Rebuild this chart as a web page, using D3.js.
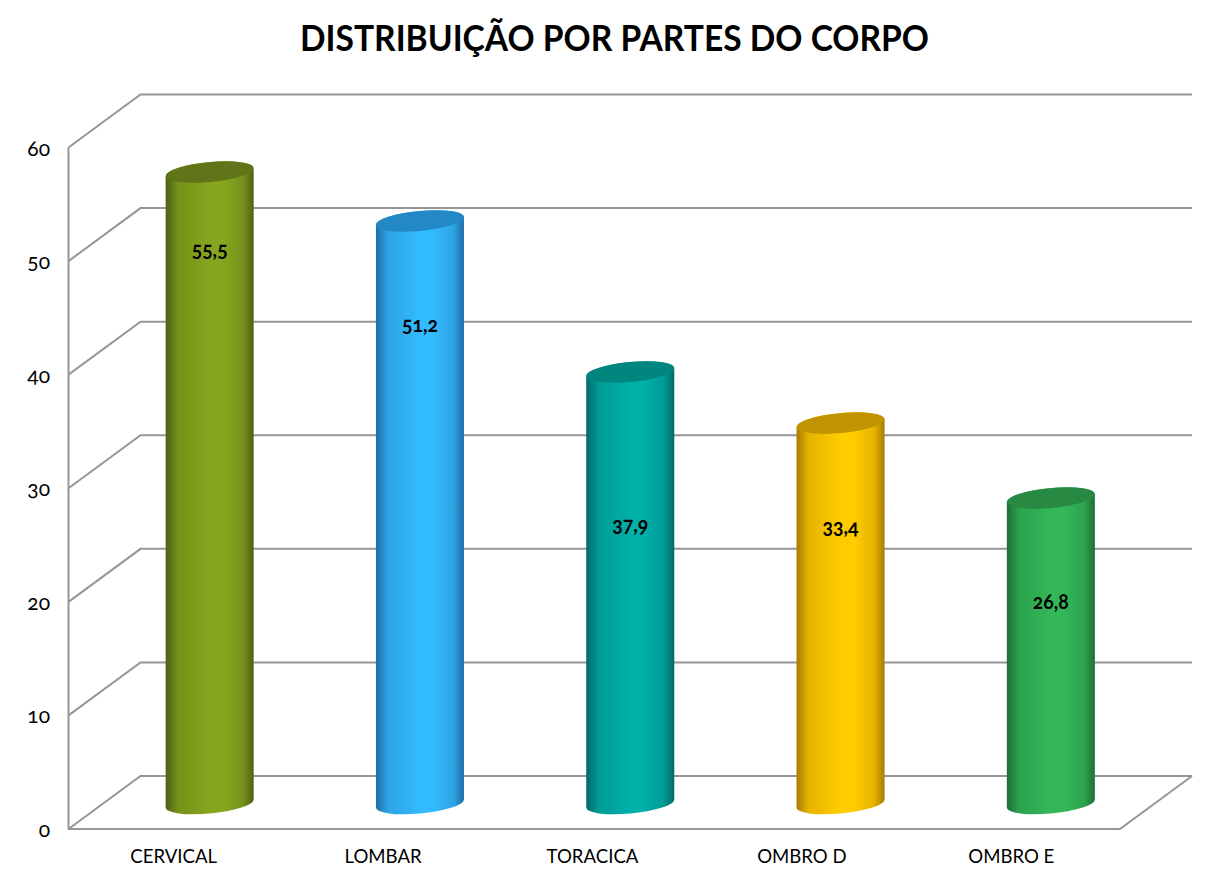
<!DOCTYPE html>
<html><head><meta charset="utf-8">
<script src="https://cdn.jsdelivr.net/npm/d3@7"></script>
<style>
html,body{margin:0;padding:0;background:#fff}
svg{display:block}
text{font-family:Lato,"Open Sans",sans-serif;font-variant-numeric:oldstyle-nums;font-feature-settings:"onum" 1}
</style></head><body>
<svg id="c" width="1229" height="886"></svg>
<script>
const titleText = "DISTRIBUIÇÃO POR PARTES DO CORPO";
const categories = ["CERVICAL","LOMBAR","TORACICA","OMBRO D","OMBRO E"];
const values = [55.5,51.2,37.9,33.4,26.8];
const valueLabels = ["55,5","51,2","37,9","33,4","26,8"];
const labelValues = [50.4,43.75,26.15,25.95,19.4];
const ticks = [0,10,20,30,40,50,60];
const edgeColors = ["#4c6112","#1f6fa6","#006a66","#a87b00","#1d6f38"];
const midColors = ["#86a61e","#33bbff","#00b0a9","#ffcc00","#33b858"];
const topColors = ["#5f7518","#2389c6","#00857f","#c09300","#288a42"];

const svg = d3.select("#c");
const depthX = 72, depthY = 53;
const frontX = 68.5, frontRight = 1120, y0 = 829, y60 = 147.5;
const y = d3.scaleLinear().domain([0,60]).range([y0,y60]);
const x = d3.scaleBand().domain(categories).range([frontX+depthX/2, frontRight+depthX/2]).padding(0);
const xLabel = d3.scaleBand().domain(categories).range([69,1116]).padding(0);
const cx = c => x(c) + x.bandwidth()/2;
const yBar = v => y(v) - depthY/2;

const defs = svg.append("defs");
categories.forEach((c,i)=>{
  const g = defs.append("linearGradient").attr("id","g"+i).attr("x1","0").attr("x2","1").attr("y1","0").attr("y2","0");
  const blend = d3.interpolateRgb(edgeColors[i], midColors[i]);
  [[0,0],[0.14,0.7],[0.5,1],[0.65,1],[0.88,0.7],[1,0]].forEach(([o,k])=>{
    g.append("stop").attr("offset",o).attr("stop-color",blend(k));
  });
});

const grid = "#969696";
svg.append("g").selectAll("path").data(ticks).join("path")
  .attr("fill","none").attr("stroke",grid).attr("stroke-width",2)
  .attr("d",t=>d3.line()([[frontX,y(t)],[frontX+depthX,y(t)-depthY],[frontRight+depthX,y(t)-depthY]]));
svg.append("path").attr("fill","none").attr("stroke",grid).attr("stroke-width",2)
  .attr("d",d3.line()([[frontX,y(60)],[frontX,y(0)],[frontRight,y(0)],[frontRight+depthX,y(0)-depthY]]));

svg.append("g").selectAll("text").data(ticks).join("text")
  .attr("x",50).attr("y",t=>y(t)+8).attr("text-anchor","end")
  .attr("font-size",21).attr("fill","#000").text(t=>t);

const rx=44.2, ry=10, deg=-5.4, rot=deg*Math.PI/180;
const tExt=Math.atan(-(ry/rx)*Math.tan(rot));
const ex=rx*Math.cos(tExt)*Math.cos(rot)-ry*Math.sin(tExt)*Math.sin(rot);
const ey=rx*Math.cos(tExt)*Math.sin(rot)+ry*Math.sin(tExt)*Math.cos(rot);
const bars=svg.append("g").selectAll("g").data(categories).join("g");
bars.append("path").attr("fill",(d,i)=>`url(#g${i})`)
  .attr("d",(c,i)=>{
    const X=cx(c), T=yBar(values[i]), B=yBar(0)+1;
    return `M${X-ex},${T-ey}L${X-ex},${B-ey}A${rx},${ry} ${deg} 0 0 ${X+ex},${B+ey}L${X+ex},${T+ey}A${rx},${ry} ${deg} 0 0 ${X-ex},${T-ey}Z`;
  });
bars.append("ellipse").attr("rx",rx).attr("ry",ry).attr("fill",(d,i)=>topColors[i])
  .attr("transform",(c,i)=>`translate(${cx(c)},${yBar(values[i])}) rotate(${deg})`);
bars.append("text").attr("x",cx).attr("y",(c,i)=>y(labelValues[i])).attr("text-anchor","middle")
  .attr("font-size",21).attr("font-weight",700).attr("fill","#000")
  .attr("textLength",36).attr("lengthAdjust","spacingAndGlyphs").text((c,i)=>valueLabels[i]);

svg.append("g").selectAll("text").data(categories).join("text")
  .attr("x",c=>xLabel(c)+xLabel.bandwidth()/2).attr("y",863).attr("text-anchor","middle")
  .attr("font-size",18.6).attr("fill","#000").text(c=>c);

svg.append("text").attr("x",614.5).attr("y",51).attr("text-anchor","middle")
  .attr("font-size",36).attr("font-weight",700).attr("fill","#000")
  .attr("textLength",629).attr("lengthAdjust","spacingAndGlyphs").text(titleText);
</script>
</body></html>
